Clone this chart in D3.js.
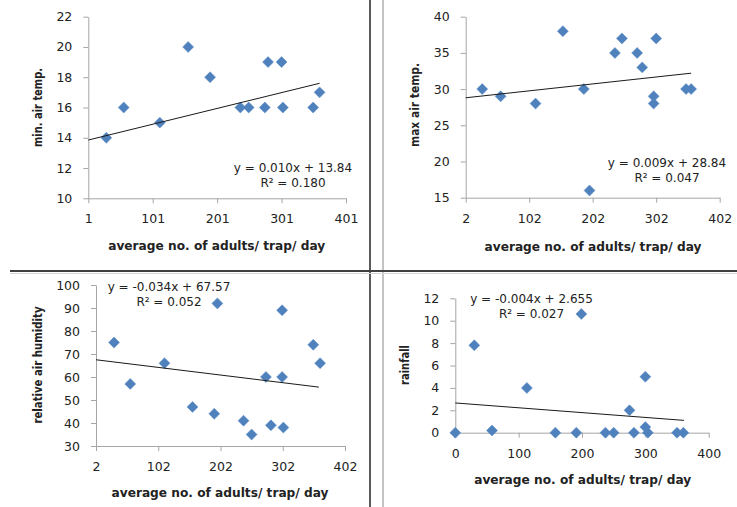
<!DOCTYPE html>
<html>
<head>
<meta charset="utf-8">
<script src="https://cdn.jsdelivr.net/npm/d3@7/dist/d3.min.js"></script>
<style>
  html, body { margin: 0; padding: 0; background: #ffffff; }
  svg { display: block; }
  .tick text { font-family: "DejaVu Sans", Verdana, sans-serif; font-size: 12.5px; fill: #222; }
  .tick line, .domain { stroke: #a6a6a6; }
</style>
</head>
<body>
<svg id="chart" width="737" height="507"></svg>
<script>
// ---------- DATA ----------
const xTitle = "average no. of adults/ trap/ day";

// Panel 1: min. air temp.
const minTempX = [29, 56, 112, 156, 190, 237, 250, 275, 280, 301, 303, 350, 360];
const minTempY = [14, 16, 15, 20, 18, 16, 16, 16, 19, 19, 16, 16, 17];
const minTempTrend = [[1, 13.85], [360, 17.6]];
const minTempXTicks = [1, 101, 201, 301, 401];
const minTempYTicks = [10, 12, 14, 16, 18, 20, 22];
const minTempEq = ["y = 0.010x + 13.84", "R² = 0.180"];

// Panel 2: max air temp.
const maxTempX = [28, 57, 112, 155, 188, 197, 237, 248, 272, 280, 298, 298, 302, 349, 357];
const maxTempY = [30, 29, 28, 38, 30, 16, 35, 37, 35, 33, 29, 28, 37, 30, 30];
const maxTempTrend = [[2, 28.8], [357, 32.2]];
const maxTempXTicks = [2, 102, 202, 302, 402];
const maxTempYTicks = [15, 20, 25, 30, 35, 40];
const maxTempEq = ["y = 0.009x + 28.84", "R² = 0.047"];

// Panel 3: relative air humidity
const humX = [31, 57, 112, 157, 192, 197, 239, 252, 275, 283, 301, 301, 303, 351, 362];
const humY = [75, 57, 66, 47, 44, 92, 41, 35, 60, 39, 89, 60, 38, 74, 66];
const humTrend = [[2, 67.5], [360, 55.6]];
const humXTicks = [2, 102, 202, 302, 402];
const humYTicks = [30, 40, 50, 60, 70, 80, 90, 100];
const humEq = ["y = -0.034x + 67.57", "R² = 0.052"];

// Panel 4: rainfall
const rainX = [0, 30, 58, 113, 158, 191, 199, 237, 250, 275, 282, 300, 300, 304, 350, 360];
const rainY = [0, 7.8, 0.2, 4, 0, 0, 10.6, 0, 0, 2, 0, 5, 0.5, 0, 0, 0];
const rainTrend = [[0, 2.655], [361, 1.1]];
const rainXTicks = [0, 100, 200, 300, 400];
const rainYTicks = [0, 2, 4, 6, 8, 10, 12];
const rainEq = ["y = -0.004x + 2.655", "R² = 0.027"];

// ---------- LAYOUT ----------
const panels = [
  { xs: minTempX, ys: minTempY, trend: minTempTrend, xTicks: minTempXTicks, yTicks: minTempYTicks, eq: minTempEq,
    yTitle: "min. air temp.", xDom: [1, 401], yDom: [10, 22],
    xR: [88.3, 346], yR: [198.3, 16.7],
    yTitlePos: [37.7, 107.5], yTitleLen: 79, xTitlePos: [216.7, 246], eqPos: [293, 168] },
  { xs: maxTempX, ys: maxTempY, trend: maxTempTrend, xTicks: maxTempXTicks, yTicks: maxTempYTicks, eq: maxTempEq,
    yTitle: "max air temp.", xDom: [2, 402], yDom: [15, 40],
    xR: [465.7, 719.7], yR: [197.7, 16.7],
    yTitlePos: [414.7, 105], yTitleLen: 84, xTitlePos: [593, 246.7], eqPos: [667, 162.7] },
  { xs: humX, ys: humY, trend: humTrend, xTicks: humXTicks, yTicks: humYTicks, eq: humEq,
    yTitle: "relative air humidity", xDom: [2, 402], yDom: [30, 100],
    xR: [96, 345], yR: [446, 285],
    yTitlePos: [37.7, 365], yTitleLen: 117, xTitlePos: [220, 493.3], eqPos: [169, 286.7] },
  { xs: rainX, ys: rainY, trend: rainTrend, xTicks: rainXTicks, yTicks: rainYTicks, eq: rainEq,
    yTitle: "rainfall", xDom: [0, 400], yDom: [0, 12],
    xR: [455.3, 708.7], yR: [432.7, 298.3],
    yTitlePos: [404.7, 365], yTitleLen: 40, xTitlePos: [582.7, 480], eqPos: [531.5, 299.3] }
];

const svg = d3.select("#chart");

// dividers
svg.append("line").attr("x1", 370).attr("x2", 370).attr("y1", 0).attr("y2", 507)
  .attr("stroke", "#5a5a5a").attr("stroke-width", 2);
svg.append("line").attr("x1", 383).attr("x2", 383).attr("y1", 0).attr("y2", 507)
  .attr("stroke", "#c4c4c4").attr("stroke-width", 2);
svg.append("line").attr("x1", 10).attr("x2", 737).attr("y1", 271).attr("y2", 271)
  .attr("stroke", "#404040").attr("stroke-width", 2);
svg.append("line").attr("x1", 10).attr("x2", 737).attr("y1", 273.5).attr("y2", 273.5)
  .attr("stroke", "#d6d6d6").attr("stroke-width", 1);

const diamond = d3.symbol().type(d3.symbolSquare).size(60);

panels.forEach(p => {
  const x = d3.scaleLinear().domain(p.xDom).range(p.xR);
  const y = d3.scaleLinear().domain(p.yDom).range(p.yR);
  const g = svg.append("g");

  g.append("g").attr("transform", `translate(0,${p.yR[0]})`)
    .call(d3.axisBottom(x).tickValues(p.xTicks).tickFormat(d3.format("d")).tickSize(5).tickSizeOuter(0).tickPadding(11));
  g.append("g").attr("transform", `translate(${p.xR[0]},0)`)
    .call(d3.axisLeft(y).tickValues(p.yTicks).tickFormat(d3.format("d")).tickSize(5).tickSizeOuter(0).tickPadding(11));

  // points
  const pts = p.xs.map((v, i) => [v, p.ys[i]]);
  g.selectAll("path.pt").data(pts).join("path").attr("class", "pt")
    .attr("d", diamond)
    .attr("transform", d => `translate(${x(d[0])},${y(d[1])}) rotate(45)`)
    .attr("fill", "#4f81bd").attr("stroke", "#5b8cc6").attr("stroke-width", 0.5);

  // trend line
  g.append("path").datum(p.trend)
    .attr("d", d3.line().x(d => x(d[0])).y(d => y(d[1])))
    .attr("fill", "none").attr("stroke", "#1a1a1a").attr("stroke-width", 1);

  // equation
  p.eq.forEach((t, i) => {
    g.append("text").attr("x", p.eqPos[0]).attr("y", p.eqPos[1] + i * 15)
      .attr("text-anchor", "middle").attr("dominant-baseline", "central")
      .attr("font-family", "DejaVu Sans, Verdana, sans-serif").attr("font-size", 12)
      .attr("fill", "#222").text(t);
  });

  // axis titles
  g.append("text").attr("x", p.xTitlePos[0]).attr("y", p.xTitlePos[1])
    .attr("text-anchor", "middle").attr("dominant-baseline", "central")
    .attr("font-family", "DejaVu Sans, Verdana, sans-serif").attr("font-size", 12).attr("font-weight", "bold")
    .attr("fill", "#222")
    .attr("textLength", 217).attr("lengthAdjust", "spacingAndGlyphs")
    .text(xTitle);
  g.append("text")
    .attr("transform", `translate(${p.yTitlePos[0]},${p.yTitlePos[1]}) rotate(-90)`)
    .attr("text-anchor", "middle").attr("dominant-baseline", "central")
    .attr("font-family", "DejaVu Sans, Verdana, sans-serif").attr("font-size", 12).attr("font-weight", "bold")
    .attr("fill", "#222")
    .attr("textLength", p.yTitleLen).attr("lengthAdjust", "spacingAndGlyphs")
    .text(p.yTitle);
});
</script>
</body>
</html>
